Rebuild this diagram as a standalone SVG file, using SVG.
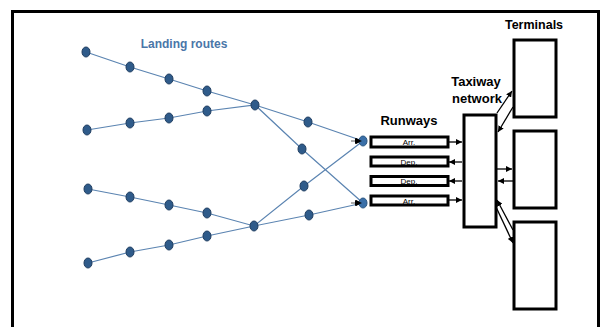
<svg xmlns="http://www.w3.org/2000/svg" width="604" height="327" viewBox="0 0 604 327">
<defs>
<marker id="ah" viewBox="0 0 10 10" refX="10" refY="5" markerWidth="6" markerHeight="6" markerUnits="userSpaceOnUse" orient="auto">
<path d="M0,0 L10,5 L0,10 Z" fill="#000"/>
</marker>
</defs>
<style>
.route{stroke:#5b84b1;stroke-width:1.2;fill:none}
.nd{fill:#2f5b8a;stroke:#1f3d60;stroke-width:1}
.box{fill:#fff;stroke:#000;stroke-width:3}
.arr{stroke:#000;stroke-width:1.3;fill:none;marker-end:url(#ah)}
.lbl{font-family:"Liberation Sans",Arial,sans-serif;font-weight:bold;fill:#000}
.small{font-family:"Liberation Sans",Arial,sans-serif;font-size:8px;fill:#000;text-anchor:middle}
</style>
<rect x="12.5" y="11.5" width="586" height="330" fill="#fff" stroke="#000" stroke-width="3"/>
<text x="184" y="48" class="lbl" style="fill:#4a76a8;font-size:12px" text-anchor="middle">Landing routes</text>
<text x="409" y="125" class="lbl" style="font-size:13px" text-anchor="middle">Runways</text>
<text x="476" y="86" class="lbl" style="font-size:13px" text-anchor="middle">Taxiway</text>
<text x="477" y="103" class="lbl" style="font-size:13px" text-anchor="middle">network</text>
<text x="534" y="29" class="lbl" style="font-size:12.5px" text-anchor="middle">Terminals</text>
<g id="connectors">
<polyline class="route" points="86,52 130,67 169,79 207,91 255,105 308,122 363,141"/>
<polyline class="route" points="87,130 130,123 169,118 207,111 255,105 302,149 363,203"/>
<polyline class="route" points="88,189 130,197 169,205 207,213 254,226 309,215 363,203"/>
<polyline class="route" points="88,263 130,252 169,245 207,236 254,226 304,186 363,141"/>
<line x1="351" y1="141" x2="362" y2="141" stroke="#777" stroke-width="1.2" marker-end="url(#ah)"/>
<line x1="351" y1="203" x2="362" y2="203" stroke="#777" stroke-width="1.2" marker-end="url(#ah)"/>
<line class="arr" x1="449" y1="142" x2="462" y2="142"/>
<line class="arr" x1="462" y1="162" x2="449" y2="162"/>
<line class="arr" x1="462" y1="181" x2="449" y2="181"/>
<line class="arr" x1="449" y1="200" x2="462" y2="200"/>
<line class="arr" x1="497" y1="113" x2="512" y2="91"/>
<line class="arr" x1="513" y1="107" x2="498" y2="132"/>
<line class="arr" x1="497" y1="169" x2="512" y2="169"/>
<line class="arr" x1="513" y1="181" x2="498" y2="181"/>
<line class="arr" x1="513" y1="230" x2="497" y2="200"/>
<line class="arr" x1="496" y1="207" x2="513" y2="243"/>
</g>
<g id="route-nodes">
<ellipse class="nd" cx="86" cy="52" rx="4" ry="5"/>
<ellipse class="nd" cx="130" cy="67" rx="4" ry="5"/>
<ellipse class="nd" cx="169" cy="79" rx="4" ry="5"/>
<ellipse class="nd" cx="207" cy="91" rx="4" ry="5"/>
<ellipse class="nd" cx="87" cy="130" rx="4" ry="5"/>
<ellipse class="nd" cx="130" cy="123" rx="4" ry="5"/>
<ellipse class="nd" cx="169" cy="118" rx="4" ry="5"/>
<ellipse class="nd" cx="207" cy="111" rx="4" ry="5"/>
<ellipse class="nd" cx="255" cy="105" rx="4" ry="5"/>
<ellipse class="nd" cx="308" cy="122" rx="4" ry="5"/>
<ellipse class="nd" cx="302" cy="149" rx="4" ry="5"/>
<ellipse class="nd" cx="88" cy="189" rx="4" ry="5"/>
<ellipse class="nd" cx="130" cy="197" rx="4" ry="5"/>
<ellipse class="nd" cx="169" cy="205" rx="4" ry="5"/>
<ellipse class="nd" cx="207" cy="213" rx="4" ry="5"/>
<ellipse class="nd" cx="88" cy="263" rx="4" ry="5"/>
<ellipse class="nd" cx="130" cy="252" rx="4" ry="5"/>
<ellipse class="nd" cx="169" cy="245" rx="4" ry="5"/>
<ellipse class="nd" cx="207" cy="236" rx="4" ry="5"/>
<ellipse class="nd" cx="254" cy="226" rx="4" ry="5"/>
<ellipse class="nd" cx="304" cy="186" rx="4" ry="5"/>
<ellipse class="nd" cx="309" cy="215" rx="4" ry="5"/>
<ellipse cx="363" cy="141" rx="4" ry="5" fill="#3a6fa8" stroke="#2a5580" stroke-width="1"/>
<ellipse cx="363" cy="203" rx="4" ry="5" fill="#3a6fa8" stroke="#2a5580" stroke-width="1"/>
<path d="M355,138 L362,141 L355,144 Z" fill="#000"/>
<path d="M355,200 L362,203 L355,206 Z" fill="#000"/>
</g>
<g id="runway-arr1"><rect class="box" x="371" y="137" width="77" height="10"/><text class="small" x="409" y="145">Arr.</text></g>
<g id="runway-dep1"><rect class="box" x="371" y="157" width="77" height="9"/><text class="small" x="409" y="164.5">Dep.</text></g>
<g id="runway-dep2"><rect class="box" x="371" y="176.5" width="77" height="9"/><text class="small" x="409" y="184">Dep.</text></g>
<g id="runway-arr2"><rect class="box" x="371" y="196" width="77" height="9"/><text class="small" x="409" y="203.5">Arr.</text></g>
<g id="taxiway"><rect class="box" x="464" y="115" width="32" height="112"/></g>
<g id="terminal1"><rect class="box" x="514" y="40" width="42" height="77"/></g>
<g id="terminal2"><rect class="box" x="514" y="131" width="42" height="77"/></g>
<g id="terminal3"><rect class="box" x="514" y="222" width="42" height="87"/></g>
</svg>
